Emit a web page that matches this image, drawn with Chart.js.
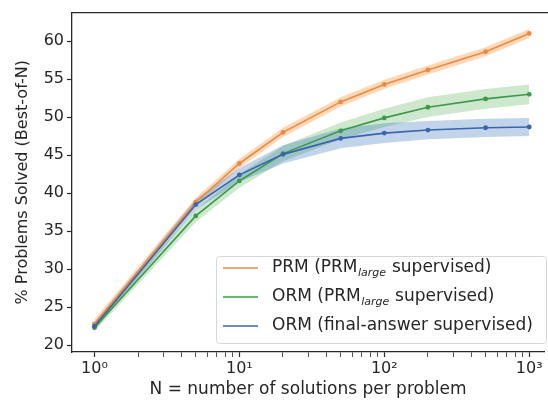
<!DOCTYPE html>
<html>
<head>
<meta charset="utf-8">
<script src="https://cdn.jsdelivr.net/npm/chart.js@4.4.0/dist/chart.umd.min.js"></script>
<style>
    html, body { margin: 0; padding: 0; background: #fff; overflow: hidden; }
    #wrap { position: relative; width: 548px; height: 401px; }
</style>
</head>
<body>
<div id="wrap"><canvas id="bestOfNChart"></canvas></div>
<script>
// --- Data ---
const nValues = [1, 5, 10, 20, 50, 100, 200, 500, 1000];
const prmLarge = [22.8, 38.8, 43.9, 48.0, 52.0, 54.3, 56.2, 58.6, 61.0];
const ormLarge = [22.3, 37.0, 41.6, 45.2, 48.2, 49.9, 51.3, 52.4, 53.0];
const ormFinal = [22.5, 38.5, 42.4, 45.1, 47.2, 47.9, 48.3, 48.6, 48.7];

// half-width of the shaded band around each curve
const prmLargeSpread = [0.6, 0.6, 0.6, 0.6, 0.6, 0.6, 0.6, 0.6, 0.6];
const ormLargeSpread = [0.5, 0.8, 0.9, 1.0, 1.1, 1.2, 1.3, 1.3, 1.3];
const ormFinalSpread = [0.5, 0.7, 0.9, 1.2, 1.3, 1.3, 1.2, 1.2, 1.2];

const yTicks = [20, 25, 30, 35, 40, 45, 50, 55, 60];
const xDecades = [1, 10, 100, 1000];
const xMinorSteps = [1, 2, 3, 4, 5, 6, 7, 8, 9];

const legendLabels = [
    ['PRM (PRM', 'large', ' supervised)'],
    ['ORM (PRM', 'large', ' supervised)'],
    ['ORM (final-answer supervised)', '', '']
];

// --- Styles ---
const FONT = "'DejaVu Sans', sans-serif";
const TEXT = '#262626';
const colors = {
    prm: { line: '#ea8a46', band: 'rgba(255, 127, 14, 0.3)' },
    ormLarge: { line: '#3c9a4c', band: 'rgba(44, 160, 44, 0.24)' },
    ormFinal: { line: '#3a64ab', band: 'rgba(31, 100, 180, 0.28)' }
};
const legendColors = [colors.prm.line, colors.ormLarge.line, colors.ormFinal.line];

const toPoints = (ys) => nValues.map((n, i) => ({ x: n, y: ys[i] }));
const shift = (ys, sp, sign) => ys.map((v, i) => v + sign * sp[i]);

const lineSet = (label, ys, color) => ({
    label,
    data: toPoints(ys),
    borderColor: color,
    backgroundColor: color,
    borderWidth: 1.6,
    pointRadius: 2.4,
    pointBorderWidth: 0,
    tension: 0,
    fill: false
});

const bandSet = (ys, color, fillTarget) => ({
    data: toPoints(ys),
    borderWidth: 0,
    pointRadius: 0,
    backgroundColor: color,
    borderColor: 'transparent',
    tension: 0,
    fill: fillTarget === undefined ? false : { target: fillTarget }
});

// index 0 is drawn on top
const datasets = [
    lineSet('ormFinal', ormFinal, colors.ormFinal.line),
    lineSet('ormLarge', ormLarge, colors.ormLarge.line),
    lineSet('prm', prmLarge, colors.prm.line),
    bandSet(shift(ormFinal, ormFinalSpread, -1), colors.ormFinal.band),
    bandSet(shift(ormFinal, ormFinalSpread, 1), colors.ormFinal.band, 3),
    bandSet(shift(ormLarge, ormLargeSpread, -1), colors.ormLarge.band),
    bandSet(shift(ormLarge, ormLargeSpread, 1), colors.ormLarge.band, 5),
    bandSet(shift(prmLarge, prmLargeSpread, -1), colors.prm.band),
    bandSet(shift(prmLarge, prmLargeSpread, 1), colors.prm.band, 7)
];

const superscripts = ['⁰', '¹', '²', '³'];

// --- Plugins ---
// top spine only; the right spine is cropped off in the original figure
const framePlugin = {
    id: 'frame',
    afterDatasetsDraw(chart) {
        const { ctx, chartArea: a } = chart;
        ctx.save();
        ctx.strokeStyle = '#2a2a2a';
        ctx.lineWidth = 1.3;
        ctx.beginPath();
        ctx.moveTo(a.left, a.top);
        ctx.lineTo(chart.width, a.top);
        ctx.stroke();
        ctx.restore();
    }
};

const legendPlugin = {
    id: 'mplLegend',
    afterDraw(chart) {
        const { ctx, chartArea: a } = chart;
        const right = chart.width - 2, bottom = a.bottom - 9;
        const width = 330, rowH = 29, height = 87;
        const left = right - width, top = bottom - height;
        ctx.save();
        ctx.fillStyle = 'rgba(255,255,255,0.85)';
        ctx.strokeStyle = '#d6d6d6';
        ctx.lineWidth = 1;
        ctx.beginPath();
        ctx.roundRect(left + 0.5, top + 0.5, width, height, 3);
        ctx.fill();
        ctx.stroke();

        legendLabels.forEach((parts, i) => {
            const y = top + 12 + rowH * i;
            ctx.strokeStyle = legendColors[i];
            ctx.lineWidth = 1.6;
            ctx.beginPath();
            ctx.moveTo(left + 7, y);
            ctx.lineTo(left + 42, y);
            ctx.stroke();

            let x = left + 56;
            ctx.fillStyle = TEXT;
            ctx.textBaseline = 'middle';
            ctx.textAlign = 'left';
            ctx.font = `17px ${FONT}`;
            ctx.fillText(parts[0], x, y);
            x += ctx.measureText(parts[0]).width;
            if (parts[1]) {
                ctx.font = `italic 11px ${FONT}`;
                ctx.fillText(parts[1], x + 0.5, y + 5);
                x += ctx.measureText(parts[1]).width + 1;
            }
            if (parts[2]) {
                ctx.font = `17px ${FONT}`;
                ctx.fillText(parts[2], x, y);
            }
        });
        ctx.restore();
    }
};

// --- Chart ---
const ctx = document.getElementById('bestOfNChart').getContext('2d');
const bestOfNChart = new Chart(ctx, {
    type: 'line',
    data: { datasets },
    options: {
        responsive: true,
        maintainAspectRatio: false,
        animation: false,
        layout: { padding: { top: 7, right: 0, left: 0, bottom: 0 } },
        plugins: { legend: { display: false }, tooltip: { enabled: false } },
        scales: {
            x: {
                type: 'logarithmic',
                min: 0.73,
                max: 1265,
                afterBuildTicks: (scale) => {
                    const ticks = [];
                    xDecades.forEach((d) => xMinorSteps.forEach((s) => {
                        const v = d * s;
                        if (v >= scale.min && v <= scale.max) ticks.push({ value: v });
                    }));
                    scale.ticks = ticks;
                },
                afterFit: (scale) => { scale.height = 49; },
                grid: {
                    drawOnChartArea: false,
                    drawTicks: true,
                    tickLength: 5,
                    tickColor: '#2a2a2a',
                    tickWidth: (c) => (xDecades.includes(c.tick && c.tick.value) ? 1.2 : 0.8)
                },
                border: { display: true, color: '#2a2a2a', width: 1.3 },
                ticks: {
                    autoSkip: false,
                    maxRotation: 0,
                    padding: 2,
                    color: TEXT,
                    font: { family: FONT, size: 16 },
                    callback: (v) => {
                        const k = xDecades.indexOf(v);
                        return k >= 0 ? '10' + superscripts[k] : '';
                    }
                },
                title: {
                    display: true,
                    text: 'N = number of solutions per problem',
                    color: TEXT,
                    font: { family: FONT, size: 17 },
                    padding: { top: 0, bottom: 1 }
                }
            },
            y: {
                min: 19.1,
                max: 63.75,
                afterBuildTicks: (scale) => { scale.ticks = yTicks.map((v) => ({ value: v })); },
                afterFit: (scale) => { scale.width = 72; },
                grid: {
                    drawOnChartArea: false,
                    drawTicks: true,
                    tickLength: 5,
                    tickColor: '#2a2a2a',
                    tickWidth: 1.2
                },
                border: { display: true, color: '#2a2a2a', width: 1.3 },
                ticks: {
                    padding: 3,
                    color: TEXT,
                    font: { family: FONT, size: 16 }
                },
                title: {
                    display: true,
                    text: '% Problems Solved (Best-of-N)',
                    color: TEXT,
                    font: { family: FONT, size: 16 },
                    padding: { top: 13, bottom: 0 }
                }
            }
        }
    },
    plugins: [framePlugin, legendPlugin]
});
</script>
</body>
</html>
